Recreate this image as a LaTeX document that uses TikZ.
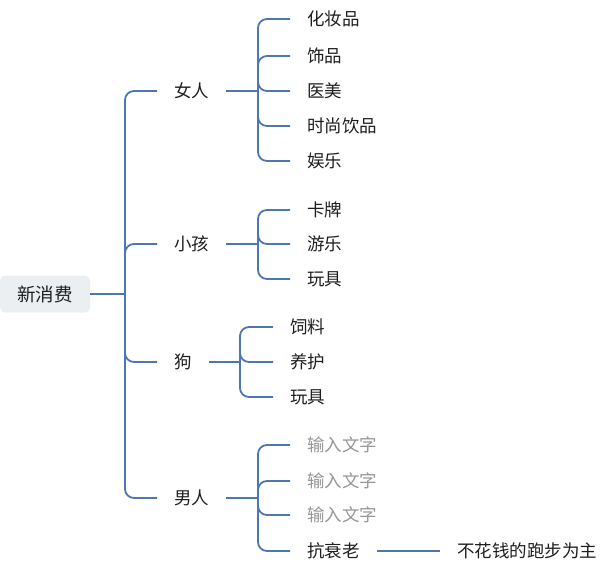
\documentclass[tikz,border=0pt]{standalone}
\usepackage{fontspec}
\setmainfont{Noto Sans CJK SC}
\usepackage{tikz}
\definecolor{linkblue}{RGB}{78,118,176}
\definecolor{rootgray}{RGB}{236,239,242}
\definecolor{inkdark}{RGB}{30,30,30}
\definecolor{hintgray}{RGB}{150,150,150}

\begin{document}
\begin{tikzpicture}[x=1pt, y=-1pt,
		word/.style={anchor=west, inner xsep=17pt, inner ysep=2pt, text=inkdark, font=\fontsize{17.5}{20}\selectfont},
		hint/.style={word, text=hintgray},
		link/.style={draw=linkblue, line width=1.8pt},
		fork/.style={link, rounded corners=9pt}]
				\useasboundingbox (0,0) rectangle (600,574);
				% root
				\node[fill=rootgray, rounded corners=5pt, minimum width=90pt, minimum height=37pt, text=inkdark, font=\fontsize{18.5}{21}\selectfont] (root) at (45,294) {新消费};
				% first level
				\node[word] (woman) at (157,91) {女人};
				\node[word] (kid) at (157,244) {小孩};
				\node[word] (dog) at (157,362) {狗};
				\node[word] (man) at (157,498) {男人};
				\coordinate (trunk) at (125,294);
				\draw[link] (root.east) -- (trunk);
				\foreach \n in {woman,kid,dog,man}
					\draw[fork] (trunk) |- (\n.west);
				% women
				\node[word] (w1) at (290,19) {化妆品};
				\node[word] (w2) at (290,56) {饰品};
				\node[word] (w3) at (290,91) {医美};
				\node[word] (w4) at (290,126) {时尚饮品};
				\node[word] (w5) at (290,161) {娱乐};
				\coordinate (wj) at (258,91);
				\draw[link] (woman.east) -- (wj);
				\foreach \n in {w1,w2,w3,w4,w5}
					\draw[fork] (wj) |- (\n.west);
				% kids
				\node[word] (k1) at (290,210) {卡牌};
				\node[word] (k2) at (290,244) {游乐};
				\node[word] (k3) at (290,279) {玩具};
				\coordinate (kj) at (258,244);
				\draw[link] (kid.east) -- (kj);
				\foreach \n in {k1,k2,k3}
					\draw[fork] (kj) |- (\n.west);
				% dog
				\node[word] (d1) at (273,327) {饲料};
				\node[word] (d2) at (273,362) {养护};
				\node[word] (d3) at (273,397) {玩具};
				\coordinate (dj) at (240,362);
				\draw[link] (dog.east) -- (dj);
				\foreach \n in {d1,d2,d3}
					\draw[fork] (dj) |- (\n.west);
				% men
				\node[hint] (m1) at (290,445) {输入文字};
				\node[hint] (m2) at (290,481) {输入文字};
				\node[hint] (m3) at (290,515) {输入文字};
				\node[word] (m4) at (290,551) {抗衰老};
				\node[word] (run) at (440,551) {不花钱的跑步为主};
				\coordinate (mj) at (258,498);
				\draw[link] (man.east) -- (mj);
				\foreach \n in {m1,m2,m3,m4}
					\draw[fork] (mj) |- (\n.west);
				\draw[link] (m4.east) -- (run.west);
\end{tikzpicture}
\end{document}
